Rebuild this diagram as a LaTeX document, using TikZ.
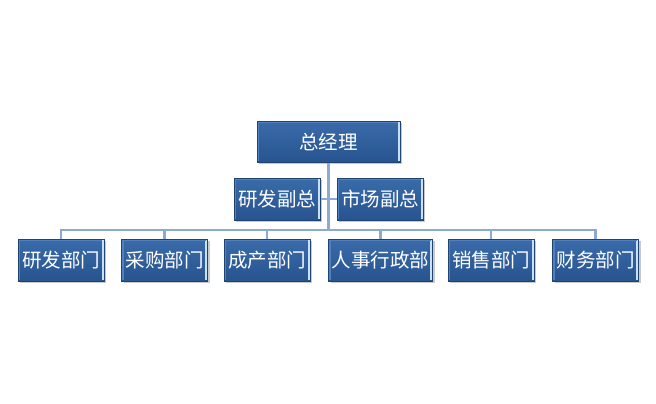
\documentclass[tikz,border=0pt]{standalone}
\usepackage{fontspec}
\newfontfamily\cjk{Noto Sans CJK SC}
\usetikzlibrary{shadows,backgrounds,calc}
\pgfdeclarelayer{paper}
\pgfsetlayers{paper,background,main}
\definecolor{boxtop}{HTML}{3A6BAA}
\definecolor{boxbot}{HTML}{27548F}
\definecolor{boxedge}{HTML}{C8E0F8}
\definecolor{boxleft}{HTML}{4F80C0}
\definecolor{connc}{HTML}{8DAAD2}
\tikzset{
  orgbox/.style={rectangle, inner sep=0pt, minimum height=42pt, minimum width=86pt,
    top color=boxtop, bottom color=boxbot, draw=boxbot!80!black, line width=0.4pt,
    text=white, font=\cjk\fontsize{19.5}{20}\selectfont,
    drop shadow={shadow xshift=2pt, shadow yshift=-2pt, fill=black!35, opacity=0.6},
    path picture={
      \draw[boxedge, line width=2.2pt] ([xshift=-1.3pt,yshift=-1pt]path picture bounding box.north east) -- ([xshift=-1.3pt,yshift=1pt]path picture bounding box.south east);
      \draw[boxleft, line width=2pt] ([xshift=1pt,yshift=-1pt]path picture bounding box.north west) -- ([xshift=1pt,yshift=1pt]path picture bounding box.south west);
      \draw[boxleft, line width=1.5pt] ([xshift=1pt,yshift=-0.8pt]path picture bounding box.north west) -- ([xshift=-2pt,yshift=-0.8pt]path picture bounding box.north east);
    }},
  conn/.style={draw=connc, line width=2.6pt}
}
\begin{document}
\begin{tikzpicture}[x=1pt,y=-1pt]
\begin{pgfonlayer}{paper}
\fill[white] (0,0) rectangle (656,404);
\end{pgfonlayer}
\useasboundingbox (0,0) rectangle (656,404);
\node[orgbox, minimum width=143pt, minimum height=41pt] (top) at (328.5,141.5) {总经理};
\node[orgbox] (vp1) at (277,199) {研发副总};
\node[orgbox] (vp2) at (380,199) {市场副总};
\node[orgbox] (c1) at (61,260) {研发部门};
\node[orgbox] (c2) at (164.5,260) {采购部门};
\node[orgbox] (c3) at (267,260) {成产部门};
\node[orgbox, minimum width=104pt] (c4) at (380.5,260) {人事行政部};
\node[orgbox] (c5) at (491,260) {销售部门};
\node[orgbox] (c6) at (595.5,260) {财务部门};
\coordinate (bus) at (328.5,230);
\begin{scope}[on background layer]
\draw[conn] (top.south) -- (bus);
\draw[conn] (vp1.east) -- (vp2.west);
\draw[conn] (c1.north) |- (bus) -| (c6.north);
\draw[conn] (c2.north) -- (c2.north |- bus);
\draw[conn] (c3.north) -- (c3.north |- bus);
\draw[conn] (c4.north) -- (c4.north |- bus);
\draw[conn] (c5.north) -- (c5.north |- bus);
\end{scope}
\end{tikzpicture}
\end{document}
